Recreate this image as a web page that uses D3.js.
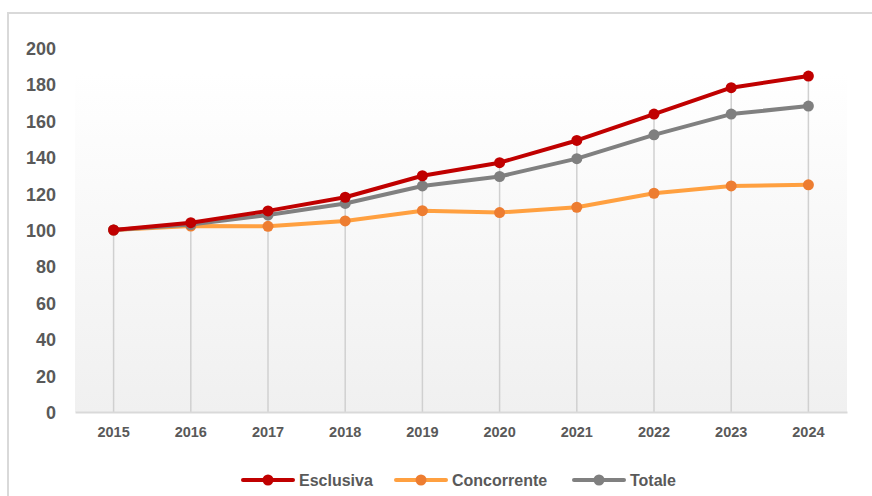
<!DOCTYPE html>
<html>
<head>
<meta charset="utf-8">
<script src="https://cdn.jsdelivr.net/npm/d3@7"></script>
<style>
  body { margin: 0; background: #fff; }
  text { font-family: "Liberation Sans", Arial, sans-serif; font-weight: bold; fill: #595959; }
</style>
</head>
<body>
<div id="chart"></div>
<script>
const years = ["2015", "2016", "2017", "2018", "2019", "2020", "2021", "2022", "2023", "2024"];
const esclusiva = [100, 104, 110.5, 118, 129.8, 137, 149.2, 163.7, 178.2, 184.6];
const concorrente = [100, 102.2, 102, 105, 110.6, 109.6, 112.5, 120.2, 124.2, 124.8];
const totale = [100, 103, 108.2, 114.6, 124.2, 129.4, 139.2, 152.3, 163.7, 168.1];
const yTicks = [0, 20, 40, 60, 80, 100, 120, 140, 160, 180, 200];

const series = [
  {name: "Esclusiva", values: esclusiva, color: "#c00000", marker: "#c00000"},
  {name: "Concorrente", values: concorrente, color: "#ffa040", marker: "#ed7d31"},
  {name: "Totale", values: totale, color: "#808080", marker: "#7f7f7f"}
];

const svgWidth = 872;
const svgHeight = 496;
const margin = {top: 48, right: 25, bottom: 84, left: 75};

const svg = d3.select("#chart")
  .append("svg")
    .attr("width", svgWidth)
    .attr("height", svgHeight);

// outer frame (only top and left edge visible)
svg.append("path")
  .attr("d", `M8,${svgHeight} V13 H${svgWidth}`)
  .attr("fill", "none")
  .attr("stroke", "#d9d9d9")
  .attr("stroke-width", 2);

const defs = svg.append("defs");
const grad = defs.append("linearGradient")
  .attr("id", "bg")
  .attr("x1", 0).attr("y1", 0).attr("x2", 0).attr("y2", 1);
grad.append("stop").attr("offset", "0%").attr("stop-color", "#ffffff");
grad.append("stop").attr("offset", "100%").attr("stop-color", "#f0f0f0");

const x = d3.scaleBand()
  .domain(years)
  .range([margin.left, svgWidth - margin.right]);

const y = d3.scaleLinear()
  .domain([0, 200])
  .range([svgHeight - margin.bottom, margin.top]);

const cx = d => x(d) + x.bandwidth() / 2;

svg.append("rect")
  .attr("x", margin.left)
  .attr("y", y(180) - 12)
  .attr("width", x.range()[1] - margin.left)
  .attr("height", y(0) - y(180) + 12)
  .attr("fill", "url(#bg)");

// drop lines from highest point to axis
svg.append("g")
  .selectAll("line")
  .data(years)
  .join("line")
    .attr("x1", d => cx(d))
    .attr("x2", d => cx(d))
    .attr("y1", y(0))
    .attr("y2", (d, i) => y(d3.max(series, s => s.values[i])))
    .attr("stroke", "#d0d0d0")
    .attr("stroke-width", 1.5);

// y axis labels
svg.append("g")
  .attr("transform", `translate(${margin.left}, 0)`)
  .call(d3.axisLeft(y).tickValues(yTicks).tickSize(0).tickPadding(19))
  .call(g => g.select(".domain").remove())
  .call(g => g.selectAll("text")
    .attr("font-size", 18)
    .attr("font-family", null)
    .attr("fill", "#595959")
    .attr("dy", "0.36em"));

// x axis
svg.append("g")
  .attr("transform", `translate(0, ${y(0)})`)
  .call(d3.axisBottom(x).tickSize(0).tickPadding(15))
  .call(g => g.select(".domain").attr("stroke", "#d9d9d9").attr("stroke-width", 2))
  .call(g => g.selectAll("text")
    .attr("font-size", 14.5)
    .attr("font-family", null)
    .attr("fill", "#595959"));

const line = d3.line()
  .x((d, i) => cx(years[i]))
  .y(d => y(d));

// draw in order so red sits on top
const drawOrder = [series[1], series[2], series[0]];
drawOrder.forEach(s => {
  svg.append("path")
    .attr("fill", "none")
    .attr("stroke", s.color)
    .attr("stroke-width", 4)
    .attr("stroke-linejoin", "round")
    .attr("d", line(s.values));
  svg.append("g")
    .selectAll("circle")
    .data(s.values)
    .join("circle")
      .attr("cx", (d, i) => cx(years[i]))
      .attr("cy", d => y(d))
      .attr("r", 5.5)
      .attr("fill", s.marker);
});

// legend
const legendX = [243, 396, 574];
const legend = svg.append("g").attr("transform", "translate(0, 480)");
series.forEach((s, i) => {
  const g = legend.append("g").attr("transform", `translate(${legendX[i]}, 0)`);
  g.append("line")
    .attr("x1", 0).attr("x2", 50)
    .attr("stroke", s.color)
    .attr("stroke-width", 4)
    .attr("stroke-linecap", "round");
  g.append("circle")
    .attr("cx", 25)
    .attr("r", 5.5)
    .attr("fill", s.marker);
  g.append("text")
    .attr("x", 56)
    .attr("dy", "0.36em")
    .attr("font-size", 16)
    .text(s.name);
});
</script>
</body>
</html>
